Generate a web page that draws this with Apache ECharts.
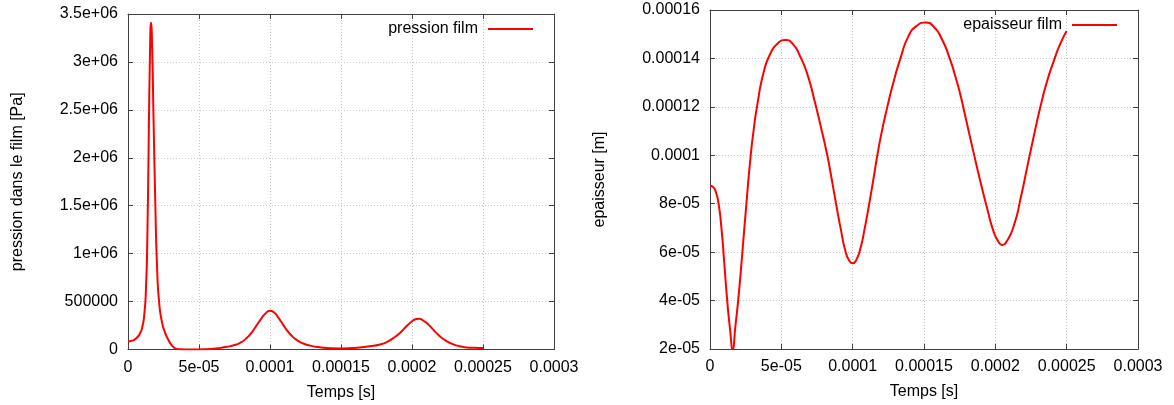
<!DOCTYPE html>
<html>
<head>
<meta charset="utf-8">
<script src="https://cdn.jsdelivr.net/npm/echarts@6/dist/echarts.min.js"></script>
<style>
html,body{margin:0;padding:0;background:#fff;}
#chart{width:1174px;height:405px;}
</style>
</head>
<body>
<div id="chart"></div>
<script>
// ---- data (time in seconds) ----
var pressureTime = [0, 0.3e-5, 0.6e-5, 0.85e-5, 1.0e-5, 1.15e-5, 1.27e-5, 1.36e-5, 1.46e-5, 1.55e-5, 1.62e-5, 1.70e-5, 1.80e-5, 1.92e-5, 2.05e-5, 2.2e-5, 2.4e-5, 2.6e-5, 2.84e-5, 3.05e-5, 3.25e-5, 3.45e-5, 3.7e-5, 4.5e-5, 5.3e-5, 6.0e-5, 6.5e-5, 6.95e-5, 7.4e-5, 7.9e-5, 8.36e-5, 8.75e-5, 9.05e-5, 9.35e-5, 9.65e-5, 10.0e-5, 10.3e-5, 10.6e-5, 10.9e-5, 11.2e-5, 11.55e-5, 11.88e-5, 12.3e-5, 12.8e-5, 13.4e-5, 14.0e-5, 15.0e-5, 15.8e-5, 16.3e-5, 17.0e-5, 17.75e-5, 18.25e-5, 18.68e-5, 19.05e-5, 19.4e-5, 19.7e-5, 19.98e-5, 20.25e-5, 20.5e-5, 20.8e-5, 21.15e-5, 21.45e-5, 21.73e-5, 22.2e-5, 22.7e-5, 23.25e-5, 23.85e-5, 24.4e-5, 25.0e-5];
var pressureValue = [83000, 92000, 119000, 170000, 230000, 370000, 650000, 1150000, 2200000, 3100000, 3410000, 3150000, 2400000, 1550000, 850000, 480000, 280000, 180000, 101000, 50000, 20000, 6000, 1500, 500, 1500, 8000, 17000, 28000, 42000, 70000, 119000, 185000, 250000, 315000, 370000, 405000, 385000, 330000, 265000, 200000, 140000, 100000, 65000, 42000, 25000, 15000, 11000, 15000, 22000, 33000, 52000, 80000, 119000, 160000, 210000, 255000, 292000, 315000, 320000, 300000, 262000, 215000, 171000, 110000, 67000, 38000, 22000, 17000, 15000];

var thicknessTime = [0, 0.2e-5, 0.4e-5, 0.6e-5, 0.8e-5, 1.0e-5, 1.2e-5, 1.4e-5, 1.59e-5, 1.78e-5, 1.99e-5, 2.27e-5, 2.55e-5, 2.83e-5, 3.05e-5, 3.32e-5, 3.75e-5, 4.23e-5, 4.75e-5, 5.28e-5, 5.8e-5, 6.33e-5, 6.85e-5, 7.35e-5, 7.8e-5, 8.22e-5, 8.52e-5, 8.82e-5, 9.15e-5, 9.49e-5, 9.75e-5, 10.0e-5, 10.25e-5, 10.54e-5, 10.85e-5, 11.16e-5, 11.45e-5, 11.73e-5, 12.05e-5, 12.43e-5, 12.85e-5, 13.35e-5, 13.9e-5, 14.5e-5, 15.1e-5, 15.7e-5, 16.25e-5, 16.8e-5, 17.25e-5, 17.55e-5, 17.9e-5, 18.48e-5, 19.0e-5, 19.43e-5, 19.85e-5, 20.2e-5, 20.48e-5, 20.8e-5, 21.3e-5, 21.8e-5, 22.23e-5, 22.7e-5, 23.16e-5, 23.6e-5, 24.1e-5, 24.55e-5, 25.0e-5];
var thicknessValue = [8.74e-5, 8.70e-5, 8.50e-5, 8.00e-5, 7.00e-5, 5.55e-5, 4.05e-5, 2.85e-5, 2.0e-5, 2.95e-5, 4.1e-5, 6.0e-5, 8.0e-5, 9.85e-5, 11.0e-5, 12.1e-5, 13.4e-5, 14.2e-5, 14.62e-5, 14.76e-5, 14.6e-5, 14.07e-5, 13.3e-5, 12.2e-5, 11.1e-5, 10.0e-5, 9.05e-5, 8.05e-5, 7.0e-5, 6.05e-5, 5.67e-5, 5.54e-5, 5.67e-5, 6.15e-5, 7.0e-5, 8.0e-5, 9.0e-5, 10.0e-5, 11.0e-5, 12.0e-5, 13.0e-5, 14.0e-5, 14.9e-5, 15.35e-5, 15.48e-5, 15.3e-5, 14.8e-5, 14.0e-5, 13.15e-5, 12.5e-5, 11.6e-5, 10.1e-5, 8.8e-5, 7.8e-5, 6.9e-5, 6.45e-5, 6.30e-5, 6.45e-5, 7.1e-5, 8.3e-5, 9.5e-5, 10.8e-5, 12.0e-5, 13.0e-5, 13.9e-5, 14.6e-5, 15.13e-5];

var timeTickLabels = ['0', '5e-05', '0.0001', '0.00015', '0.0002', '0.00025', '0.0003'];
var pressureTickLabels = ['0', '500000', '1e+06', '1.5e+06', '2e+06', '2.5e+06', '3e+06', '3.5e+06'];
var thicknessTickLabels = ['2e-05', '4e-05', '6e-05', '8e-05', '0.0001', '0.00012', '0.00014', '0.00016'];

var pressureName = 'pression film';
var thicknessName = 'epaisseur film';

function pairs(xs, ys) { return xs.map(function (x, i) { return [x, ys[i]]; }); }

var FONT = 'Liberation Sans';
var FS = 16;
var lineCol = '#404040';

function mainX(gridIndex) {
  return {
    type: 'value', gridIndex: gridIndex, position: 'bottom',
    min: 0, max: 0.0003, interval: 0.00005,
    name: 'Temps [s]', nameLocation: 'middle', nameGap: 35,
    nameTextStyle: { fontFamily: FONT, fontSize: FS, color: '#000' },
    axisLine: { show: true, onZero: false, lineStyle: { color: lineCol, width: 1 } },
    axisTick: { show: true, inside: true, length: 5, lineStyle: { color: lineCol } },
    axisLabel: { fontFamily: FONT, fontSize: FS, color: '#000', margin: 10,
      formatter: function (v) { return timeTickLabels[Math.round(v / 0.00005)]; } },
    splitLine: { show: true, lineStyle: { color: '#c8c8c8', type: [1, 2], width: 1 } }
  };
}
function mirrorX(gridIndex) {
  return {
    type: 'value', gridIndex: gridIndex, position: 'top',
    min: 0, max: 0.0003, interval: 0.00005,
    axisLine: { show: true, onZero: false, lineStyle: { color: lineCol, width: 1 } },
    axisTick: { show: true, inside: true, length: 5, lineStyle: { color: lineCol } },
    axisLabel: { show: false }, splitLine: { show: false }
  };
}
function mainY(gridIndex, min, max, interval, labels, name, offsetIdx) {
  return {
    type: 'value', gridIndex: gridIndex, position: 'left',
    min: min, max: max, interval: interval,
    name: name, nameLocation: 'middle', nameGap: 102, nameRotate: 90,
    nameTextStyle: { fontFamily: FONT, fontSize: FS, color: '#000' },
    axisLine: { show: true, onZero: false, lineStyle: { color: lineCol, width: 1 } },
    axisTick: { show: true, inside: true, length: 5, lineStyle: { color: lineCol } },
    axisLabel: { fontFamily: FONT, fontSize: FS, color: '#000', margin: 10,
      formatter: function (v) { return labels[Math.round(v / interval) - offsetIdx]; } },
    splitLine: { show: true, lineStyle: { color: '#c8c8c8', type: [1, 2], width: 1 } }
  };
}
function mirrorY(gridIndex, min, max, interval) {
  return {
    type: 'value', gridIndex: gridIndex, position: 'right',
    min: min, max: max, interval: interval,
    axisLine: { show: true, onZero: false, lineStyle: { color: lineCol, width: 1 } },
    axisTick: { show: true, inside: true, length: 5, lineStyle: { color: lineCol } },
    axisLabel: { show: false }, splitLine: { show: false }
  };
}

var chart = echarts.init(document.getElementById('chart'), null, { renderer: 'canvas' });
chart.setOption({
  animation: false,
  backgroundColor: '#fff',
  grid: [
    { left: 128, top: 14, width: 426, height: 335.5, outerBoundsMode: 'none', containLabel: false },
    { left: 710, top: 10, width: 428, height: 339, outerBoundsMode: 'none', containLabel: false }
  ],
  legend: [
    { data: [pressureName], right: 641, top: 21, padding: 0, align: 'right', icon: 'rect',
      itemWidth: 45, itemHeight: 2, selectedMode: false,
      textStyle: { fontFamily: FONT, fontSize: FS, color: '#000', padding: [0, 5, 0, 0] } },
    { data: [thicknessName], right: 57, top: 17, padding: 0, align: 'right', icon: 'rect',
      itemWidth: 45, itemHeight: 2, selectedMode: false,
      textStyle: { fontFamily: FONT, fontSize: FS, color: '#000', padding: [0, 5, 0, 0] } }
  ],
  xAxis: [mainX(0), mirrorX(0), mainX(1), mirrorX(1)],
  yAxis: [
    mainY(0, 0, 3500000, 500000, pressureTickLabels, 'pression dans le film [Pa]', 0),
    mirrorY(0, 0, 3500000, 500000),
    mainY(1, 0.00002, 0.00016, 0.00002, thicknessTickLabels, 'epaisseur [m]', 1),
    mirrorY(1, 0.00002, 0.00016, 0.00002)
  ],
  series: [
    { name: pressureName, type: 'line', xAxisIndex: 0, yAxisIndex: 0,
      data: pairs(pressureTime, pressureValue), smooth: 0.6, showSymbol: false, symbol: 'none',
      lineStyle: { color: '#ff0000', width: 2 }, itemStyle: { color: '#ff0000' }, clip: true },
    { name: thicknessName, type: 'line', xAxisIndex: 2, yAxisIndex: 2,
      data: pairs(thicknessTime, thicknessValue), smooth: 0.6, showSymbol: false, symbol: 'none',
      lineStyle: { color: '#ff0000', width: 2 }, itemStyle: { color: '#ff0000' }, clip: true }
  ]
});
</script>
</body>
</html>
